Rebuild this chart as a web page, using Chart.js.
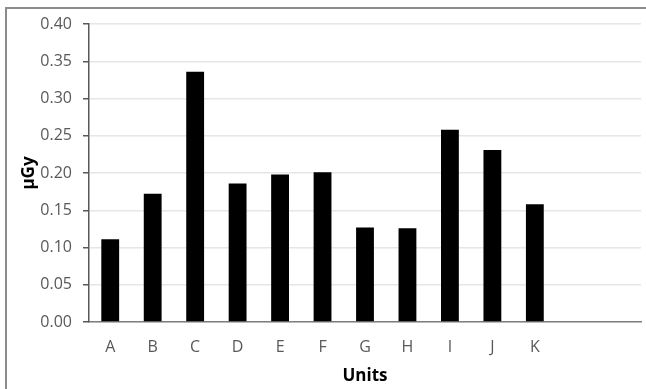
<!DOCTYPE html>
<html>
<head>
<meta charset="utf-8">
<script src="https://cdn.jsdelivr.net/npm/chart.js@4/dist/chart.umd.min.js"></script>
<style>
  html, body { margin: 0; padding: 0; background: #fff; }
  canvas { display: block; }
</style>
</head>
<body>
<canvas id="c" width="646" height="389"></canvas>
<script>
const categories = ['A', 'B', 'C', 'D', 'E', 'F', 'G', 'H', 'I', 'J', 'K', '', ''];
const doseValues = [0.111, 0.172, 0.336, 0.186, 0.198, 0.201, 0.127, 0.126, 0.258, 0.231, 0.158, null, null];
const yTicks = [0, 0.05, 0.10, 0.15, 0.20, 0.25, 0.30, 0.35, 0.40];
const xTitle = 'Units';
const yTitle = 'μGy';

const FONT = '"Open Sans", "Noto Sans", sans-serif';

const frame = {
  id: 'frame',
  beforeDraw(chart) {
    const ctx = chart.ctx;
    ctx.save();
    ctx.fillStyle = '#fff';
    ctx.fillRect(0, 0, chart.width, chart.height);
    ctx.strokeStyle = '#8c8c8c';
    ctx.lineWidth = 2;
    ctx.beginPath();
    ctx.moveTo(6, chart.height + 2);
    ctx.lineTo(6, 8);
    ctx.lineTo(chart.width + 2, 8);
    ctx.stroke();
    ctx.restore();
  }
};

new Chart(document.getElementById('c'), {
  type: 'bar',
  data: {
    labels: categories,
    datasets: [{
      data: doseValues,
      backgroundColor: '#000',
      borderWidth: 0,
      categoryPercentage: 1.0,
      barPercentage: 0.42
    }]
  },
  options: {
    responsive: false,
    animation: false,
    devicePixelRatio: 1,
    layout: { padding: { top: 24, right: 5, bottom: 0, left: 0 } },
    plugins: { legend: { display: false }, tooltip: { enabled: false } },
    scales: {
      x: {
        grid: { display: false, drawTicks: false },
        border: { display: true, color: '#7f7f7f', width: 1.5 },
        ticks: { color: '#595959', font: { family: FONT, size: 16 }, padding: 16, maxRotation: 0, autoSkip: false },
        title: { display: true, text: xTitle, color: '#000', font: { family: FONT, size: 17, weight: 'bold' }, padding: { top: 0, bottom: 3 } },
        afterFit(scale) { scale.height = 67; }
      },
      y: {
        min: 0,
        max: 0.40,
        afterBuildTicks(scale) { scale.ticks = yTicks.map(v => ({ value: v })); },
        grid: { color: '#e6e6e6', lineWidth: 1.5, drawTicks: true, tickLength: 6, tickColor: '#595959' },
        border: { display: true, color: '#595959', width: 1.5 },
        ticks: { color: '#595959', font: { family: FONT, size: 16 }, padding: 11, callback: v => v.toFixed(2) },
        title: { display: true, text: yTitle, color: '#000', font: { family: FONT, size: 17, weight: 'bold' }, padding: { top: 19, bottom: 19 } },
        afterFit(scale) { scale.width = 89; }
      }
    }
  },
  plugins: [frame]
});
</script>
</body>
</html>
